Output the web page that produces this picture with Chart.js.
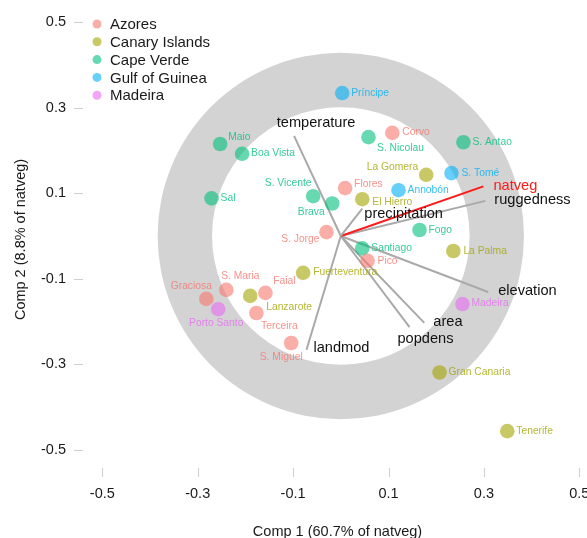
<!DOCTYPE html>
<html>
<head>
<meta charset="utf-8">
<title>PCA biplot</title>
<script src="https://cdn.jsdelivr.net/npm/chart.js@4.4.1/dist/chart.umd.min.js"></script>
<style>
  html, body { margin: 0; padding: 0; background: #fff; }
  #wrap { width: 587px; height: 538px; position: relative; }
</style>
</head>
<body>
<div id="wrap"><canvas id="biplot"></canvas></div>
<script>
// ---- data ----
const groups = ["Azores", "Canary Islands", "Cape Verde", "Gulf of Guinea", "Madeira"];

const azoresNames = ["Corvo", "Flores", "S. Jorge", "Pico", "Faial", "S. Maria", "Graciosa", "Terceira", "S. Miguel"];
const azoresX = [0.108, 0.009, -0.030, 0.056, -0.158, -0.240, -0.282, -0.177, -0.104];
const azoresY = [0.241, 0.112, 0.009, -0.058, -0.133, -0.126, -0.147, -0.180, -0.250];

const canaryNames = ["La Gomera", "El Hierro", "La Palma", "Fuerteventura", "Lanzarote", "Gran Canaria", "Tenerife"];
const canaryX = [0.179, 0.045, 0.236, -0.079, -0.190, 0.207, 0.349];
const canaryY = [0.143, 0.086, -0.035, -0.086, -0.140, -0.319, -0.456];

const capeVerdeNames = ["Maio", "Boa Vista", "Sal", "S. Vicente", "Brava", "S. Nicolau", "S. Antao", "Fogo", "Santiago"];
const capeVerdeX = [-0.253, -0.207, -0.271, -0.058, -0.018, 0.058, 0.257, 0.165, 0.045];
const capeVerdeY = [0.215, 0.192, 0.088, 0.093, 0.076, 0.231, 0.219, 0.014, -0.029];

const guineaNames = ["Príncipe", "S. Tomé", "Annobón"];
const guineaX = [0.003, 0.232, 0.121];
const guineaY = [0.334, 0.147, 0.107];

const madeiraNames = ["Madeira", "Porto Santo"];
const madeiraX = [0.255, -0.257];
const madeiraY = [-0.159, -0.171];

const varNames = ["temperature", "precipitation", "natveg", "ruggedness", "elevation", "area", "popdens", "landmod"];
const varX = [-0.098, 0.045, 0.299, 0.303, 0.309, 0.175, 0.144, -0.072];
const varY = [0.234, 0.064, 0.116, 0.082, -0.131, -0.203, -0.213, -0.266];

const xTicks = [-0.5, -0.3, -0.1, 0.1, 0.3, 0.5];
const yTicks = [0.5, 0.3, 0.1, -0.1, -0.3, -0.5];

// ring radii in x-axis units (drawn as a circle on screen)
const ringOuter = 0.384;
const ringInner = 0.27;

// ---- styling ----
const FONT = "'Liberation Sans', Arial, Helvetica, sans-serif";
const groupRGB = ["248,118,109", "163,165,0", "0,191,125", "0,176,246", "231,107,243"];

// label nudges in pixels: [dx, dy, align]
const labelNudge = {
  "Corvo": [10, -1, "left"], "Flores": [9, -4, "left"], "S. Jorge": [-7, 7, "right"],
  "Pico": [10, 0, "left"], "Faial": [19, -12, "center"], "S. Maria": [14, -14, "center"],
  "Graciosa": [-15, -13, "center"], "Terceira": [23, 13, "center"], "S. Miguel": [-10, 14, "center"],
  "La Gomera": [-8, -8, "right"], "El Hierro": [10, 3, "left"], "La Palma": [10, 0, "left"],
  "Fuerteventura": [10, -1, "left"], "Lanzarote": [16, 11, "left"], "Gran Canaria": [9, 0, "left"],
  "Tenerife": [9, 0, "left"], "Maio": [8, -7, "left"], "Boa Vista": [9, -1, "left"],
  "Sal": [9, 0, "left"], "S. Vicente": [-25, -13, "center"], "Brava": [-21, 9, "center"],
  "S. Nicolau": [32, 11, "center"], "S. Antao": [9, 0, "left"], "Fogo": [9, 0, "left"],
  "Santiago": [9, 0, "left"], "Príncipe": [9, 0, "left"], "S. Tomé": [10, 0, "left"],
  "Annobón": [9, 0, "left"], "Madeira": [9, -1, "left"], "Porto Santo": [-2, 14, "center"]
};
const varNudge = {
  "temperature": [22, -13, "center"], "precipitation": [2, 5, "left"], "natveg": [10, 0, "left"],
  "ruggedness": [9, -1, "left"], "elevation": [10, -1, "left"], "area": [9, -1, "left"],
  "popdens": [16, 12, "center"], "landmod": [7, -2, "left"]
};

const groupNames = [azoresNames, canaryNames, capeVerdeNames, guineaNames, madeiraNames];
const groupX = [azoresX, canaryX, capeVerdeX, guineaX, madeiraX];
const groupY = [azoresY, canaryY, capeVerdeY, guineaY, madeiraY];

const toPoints = (xs, ys) => xs.map((x, i) => ({ x, y: ys[i] }));

const pointSets = groups.map((g, i) => ({
  label: g,
  data: toPoints(groupX[i], groupY[i]),
  names: groupNames[i],
  backgroundColor: `rgba(${groupRGB[i]},0.6)`,
  borderWidth: 0,
  pointRadius: 7.3,
  order: 1,
  isGroup: true,
}));

const arrowSets = varNames.map((v, i) => ({
  label: v,
  data: [{ x: 0, y: 0 }, { x: varX[i], y: varY[i] }],
  showLine: true,
  borderColor: v === "natveg" ? "#ff1a1a" : "#a9a9a9",
  borderWidth: 2,
  pointRadius: 0,
  order: 2,
}));

const biplotExtras = {
  id: "biplotExtras",
  beforeDatasetsDraw(chart) {
    const { ctx } = chart;
    const xs = chart.scales.x, ys = chart.scales.y;
    const cx = xs.getPixelForValue(0), cy = ys.getPixelForValue(0);
    const rOut = xs.getPixelForValue(ringOuter) - cx;
    const rIn = xs.getPixelForValue(ringInner) - cx;
    ctx.save();
    ctx.beginPath();
    ctx.arc(cx, cy, rOut, 0, Math.PI * 2);
    ctx.arc(cx, cy, rIn, 0, Math.PI * 2, true);
    ctx.fillStyle = "#d3d3d3";
    ctx.fill("evenodd");
    ctx.restore();
  },
  afterDatasetsDraw(chart) {
    const { ctx } = chart;
    const xs = chart.scales.x, ys = chart.scales.y;
    ctx.save();
    ctx.textBaseline = "middle";

    // island labels
    ctx.font = `10.3px ${FONT}`;
    chart.data.datasets.forEach((ds, di) => {
      if (!ds.isGroup) return;
      const meta = chart.getDatasetMeta(di);
      ctx.fillStyle = `rgba(${groupRGB[di]},0.8)`;
      meta.data.forEach((el, j) => {
        const name = ds.names[j];
        const [dx, dy, align] = labelNudge[name] || [9, 0, "left"];
        ctx.textAlign = align;
        ctx.fillText(name, el.x + dx, el.y + dy);
      });
    });

    // variable labels
    ctx.font = `14.6px ${FONT}`;
    varNames.forEach((v, i) => {
      const [dx, dy, align] = varNudge[v];
      ctx.textAlign = align;
      ctx.fillStyle = v === "natveg" ? "#ff1a1a" : "#111";
      ctx.fillText(v, xs.getPixelForValue(varX[i]) + dx, ys.getPixelForValue(varY[i]) + dy);
    });

    // detached tick marks
    ctx.strokeStyle = "#cfcfcf";
    ctx.lineWidth = 1;
    yTicks.forEach((t) => {
      const py = Math.round(ys.getPixelForValue(t)) + 0.5;
      ctx.beginPath();
      ctx.moveTo(74, py);
      ctx.lineTo(83, py);
      ctx.stroke();
    });
    xTicks.forEach((t) => {
      const px = Math.round(xs.getPixelForValue(t)) + 0.5;
      ctx.beginPath();
      ctx.moveTo(px, 468);
      ctx.lineTo(px, 477);
      ctx.stroke();
    });

    // legend
    ctx.font = `15px ${FONT}`;
    ctx.textAlign = "left";
    groups.forEach((g, i) => {
      const ly = 24 + i * 17.8;
      ctx.beginPath();
      ctx.arc(97, ly, 4.5, 0, Math.PI * 2);
      ctx.fillStyle = `rgba(${groupRGB[i]},0.6)`;
      ctx.fill();
      ctx.fillStyle = "#1a1a1a";
      ctx.fillText(g, 110, ly + 1);
    });
    ctx.restore();
  },
};

new Chart(document.getElementById("biplot"), {
  type: "scatter",
  data: { datasets: [...pointSets, ...arrowSets] },
  options: {
    responsive: true,
    maintainAspectRatio: false,
    animation: false,
    layout: { padding: 0, autoPadding: false },
    plugins: {
      legend: { display: false },
      tooltip: { enabled: false },
    },
    scales: {
      x: {
        type: "linear",
        min: -0.53,
        max: 0.5161,
        grid: { display: false, drawTicks: false },
        border: { display: false },
        afterBuildTicks: (s) => { s.ticks = xTicks.map((v) => ({ value: v })); },
        afterFit: (s) => { s.height = 59; s.paddingLeft = 0; s.paddingRight = 0; },
        ticks: {
          padding: 6,
          color: "#1a1a1a",
          font: { family: FONT, size: 14.5 },
          maxRotation: 0,
          autoSkip: false,
          callback: (v) => Number(v).toFixed(1),
        },
        title: {
          display: true,
          text: "Comp 1 (60.7% of natveg)",
          color: "#1a1a1a",
          font: { family: FONT, size: 14.5 },
          padding: { top: 0, bottom: -3 },
        },
      },
      y: {
        type: "linear",
        min: -0.5678,
        max: 0.5514,
        grid: { display: false, drawTicks: false },
        border: { display: false },
        afterBuildTicks: (s) => { s.ticks = yTicks.map((v) => ({ value: v })); },
        afterFit: (s) => { s.width = 88; s.paddingTop = 0; s.paddingBottom = 0; },
        ticks: {
          padding: 22,
          color: "#1a1a1a",
          font: { family: FONT, size: 14.5 },
          autoSkip: false,
          callback: (v) => Number(v).toFixed(1),
        },
        title: {
          display: true,
          text: "Comp 2 (8.8% of natveg)",
          color: "#1a1a1a",
          font: { family: FONT, size: 14.5 },
          padding: { top: 12.3, bottom: 0 },
        },
      },
    },
  },
  plugins: [biplotExtras],
});
</script>
</body>
</html>
